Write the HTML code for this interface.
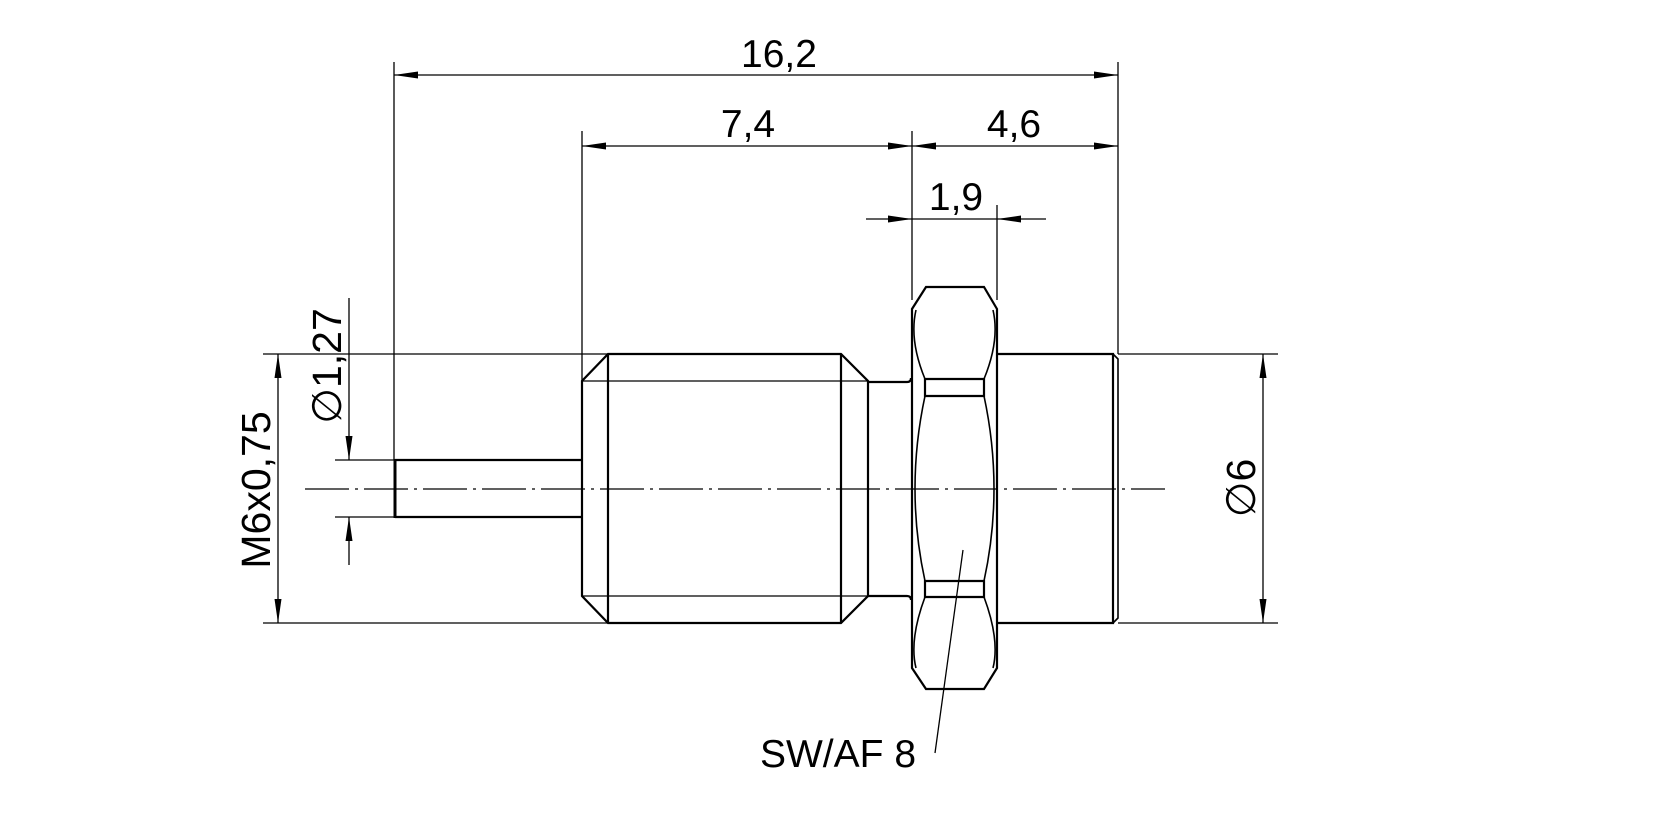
<!DOCTYPE html>
<html><head><meta charset="utf-8"><style>
html,body{margin:0;padding:0;background:#fff;}
svg{display:block;}
text{font-family:"Liberation Sans",Arial,sans-serif;fill:#000;}
</style></head><body>
<svg width="1662" height="818" viewBox="0 0 1662 818" xmlns="http://www.w3.org/2000/svg">
<defs>
<marker id="a" viewBox="0 0 24 8" refX="24" refY="4" markerWidth="24" markerHeight="8" markerUnits="userSpaceOnUse" orient="auto-start-reverse">
<path d="M0,0.5 L24,4 L0,7.5 Z" fill="#000"/>
</marker>
</defs>
<g stroke="#000" stroke-width="1.3" fill="none">
<line x1="394" y1="62" x2="394" y2="460"/>
<line x1="582" y1="131" x2="582" y2="381"/>
<line x1="912" y1="131" x2="912" y2="300"/>
<line x1="997" y1="205" x2="997" y2="300"/>
<line x1="1118" y1="62" x2="1118" y2="354"/>
<line x1="263" y1="354" x2="608" y2="354"/>
<line x1="263" y1="623" x2="608" y2="623"/>
<line x1="335" y1="460" x2="394" y2="460"/>
<line x1="335" y1="517" x2="394" y2="517"/>
<line x1="1118" y1="354" x2="1278" y2="354"/>
<line x1="1118" y1="623" x2="1278" y2="623"/>
<line x1="394" y1="75" x2="1118" y2="75" marker-start="url(#a)" marker-end="url(#a)"/>
<line x1="582" y1="146" x2="912" y2="146" marker-start="url(#a)" marker-end="url(#a)"/>
<line x1="912" y1="146" x2="1118" y2="146" marker-start="url(#a)" marker-end="url(#a)"/>
<line x1="866" y1="219" x2="912" y2="219" marker-end="url(#a)"/>
<line x1="1046" y1="219" x2="997" y2="219" marker-end="url(#a)"/>
<line x1="912" y1="219" x2="997" y2="219"/>
<line x1="278" y1="354" x2="278" y2="623" marker-start="url(#a)" marker-end="url(#a)"/>
<line x1="349" y1="298" x2="349" y2="460" marker-end="url(#a)"/>
<line x1="349" y1="565" x2="349" y2="517" marker-end="url(#a)"/>
<line x1="1263" y1="354" x2="1263" y2="623" marker-start="url(#a)" marker-end="url(#a)"/>
<line x1="305" y1="489" x2="1165" y2="489" stroke-dasharray="44 6 3 6"/>
<line x1="963" y1="550" x2="935" y2="753"/>
</g>
<g stroke="#000" stroke-width="2.2" fill="none" stroke-linejoin="miter">
<path d="M395,460 H582 M395,517 H582"/>
<line x1="395" y1="459" x2="395" y2="518" stroke-width="3"/>
<path d="M608,354 H841 L868,381 V596 L841,623 H608 L582,596 V381 Z"/>
<path d="M608,354 V623 M841,354 V623"/>
<path d="M582,381 H868 M582,596 H868" stroke-width="1.3"/>
<path d="M868,382 H907 Q911,382 911,378 M868,596 H907 Q911,596 911,600"/>
<path d="M926,287 H984 L997,309 V668 L984,689 H926 L912,668 V309 Z"/>
<path d="M925,379 H984 V396 H925 Z M925,581 H984 V597 H925 Z"/>
<path d="M916,310 Q909,340 925,379 M925,396 Q905,489 925,581 M925,597 Q909,640 916,668" stroke-width="1.6"/>
<path d="M993,310 Q1000,340 984,379 M984,396 Q1004,489 984,581 M984,597 Q1000,640 993,668" stroke-width="1.6"/>
<path d="M997,354 H1113 V623 H997"/>
<path d="M1113,354 L1118,359 V618 L1113,623" stroke-width="1.6"/>
</g>
<text x="779" y="67" font-size="39" text-anchor="middle">16,2</text>
<text x="748" y="137" font-size="39" text-anchor="middle">7,4</text>
<text x="1014" y="137" font-size="39" text-anchor="middle">4,6</text>
<text x="956" y="210" font-size="39" text-anchor="middle">1,9</text>
<text x="838" y="767" font-size="39" text-anchor="middle">SW/AF 8</text>
<text transform="translate(270,490) rotate(-90)" font-size="41" text-anchor="middle">M6x0,75</text>
<text transform="translate(341,366) rotate(-90)" font-size="41" text-anchor="middle">∅1,27</text>
<text transform="translate(1255,488) rotate(-90)" font-size="41" text-anchor="middle">∅6</text>
</svg>
</body></html>
